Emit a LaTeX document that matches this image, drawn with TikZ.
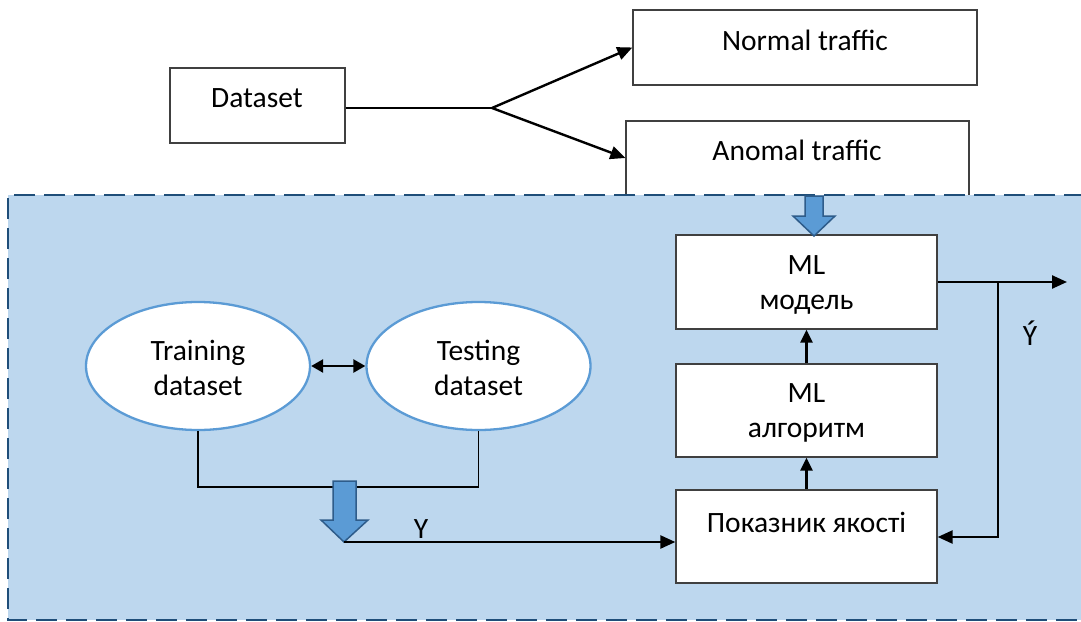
\documentclass[tikz,border=0pt]{standalone}
\usepackage{fontspec}
\setmainfont{Carlito}
\usetikzlibrary{arrows.meta,shapes.geometric}
\definecolor{regionfill}{HTML}{BDD7EE}
\definecolor{regionedge}{HTML}{1F4E79}
\definecolor{ellipseedge}{HTML}{5B9BD5}
\definecolor{blockfill}{HTML}{5B9BD5}
\definecolor{blockedge}{HTML}{2E5C8A}
\definecolor{boxedge}{HTML}{404040}
\begin{document}
\begin{tikzpicture}[x=1pt,y=-1pt,
  font=\fontsize{29.5}{35}\selectfont,
  box/.style={draw=boxedge, fill=white, line width=1.3pt, inner sep=0pt},
  oval/.style={ellipse, draw=ellipseedge, fill=white, line width=2.3pt, inner sep=0pt,
               minimum width=224pt, minimum height=128pt},
  label text/.style={align=center, inner sep=0pt},
  thin link/.style={draw=black, line width=1.1pt},
  link/.style={draw=black, line width=2.4pt},
  tip/.style={-{Triangle[length=15pt,width=13pt]}},
  small tip/.style={-{Triangle[length=13pt,width=12pt]}},
  block arrow/.style={fill=blockfill, draw=blockedge, line width=1.5pt, line join=miter},
]
\useasboundingbox (0,0) rectangle (1081,621);

% --- upper part: dataset split into two traffic classes ---
\node[box, minimum width=175pt, minimum height=75pt] (dataset) at (257.5,105.5) {};
\node[label text] (datasettext) at (257,98) {Dataset};
\node[box, minimum width=344pt, minimum height=75pt] (normal) at (805,47.5) {};
\node[label text] (normaltext) at (805,40) {Normal traffic};
\node[box, minimum width=343pt, minimum height=110pt] (anomal) at (797.5,176) {};
\node[label text] (anomaltext) at (797,150) {Anomal traffic};

\coordinate (fork) at (492,108);
\draw[thin link] (dataset.east |- fork) -- (fork);
\draw[link, tip] (fork) -- (normal.west);
\draw[link, tip] (fork) -- (anomal.west |- 0,158);

% --- shaded processing region with dashed border ---
\fill[regionfill] (8,195) rectangle (1085,620);
\draw[regionedge, line width=2.5pt, dash pattern=on 21pt off 9pt]
  (1085,195) -- (8,195) -- (8,620) -- (1085,620);

% --- model chain on the right ---
\node[box, minimum width=261pt, minimum height=94pt] (model) at (806.5,282) {};
\node[label text] (modeltext) at (806.5,285) {ML\\модель};
\node[box, minimum width=261pt, minimum height=93pt] (algo) at (806.5,410.5) {};
\node[label text] (algotext) at (806.5,413) {ML\\алгоритм};
\node[box, minimum width=261pt, minimum height=93pt] (quality) at (806.5,536.5) {};
\node[label text] (qualitytext) at (806.5,522) {Показник якості};

\draw[link, small tip] (quality.north) -- (algo.south);
\draw[link, small tip] (algo.north) -- (model.south);

% block arrow feeding the model
\draw[block arrow] (805,196) -- (823,196) -- (823,216) -- (835,216) -- (814,236)
  -- (793,216) -- (805,216) -- cycle;

% model output and feedback
\coordinate (out) at (1067,282);
\coordinate (tap) at (998,282);
\coordinate (back) at (998,537);
\draw[link, tip] (model.east |- out) -- (out);
\draw[link, tip] (tap) -- (back) -- (quality.east |- back);
\node[label text] (yhat) at (1030,333) {Ý};

% --- training / testing sets ---
\node[oval] (train) at (198,366) {};
\node[label text] (traintext) at (198,368) {Training\\dataset};
\node[oval] (test) at (478.5,366) {};
\node[label text] (testtext) at (478.5,368) {Testing\\dataset};
\draw[link, {Triangle[length=12pt,width=13pt]}-{Triangle[length=12pt,width=13pt]}]
  (train.east) -- (test.west);

\coordinate (join) at (344,487);
\draw[thin link] (train.south) -- (train.south |- join) -- (test.south |- join) -- (test.south);

% block arrow collecting both sets
\draw[block arrow] (333,481) -- (356,481) -- (356,520) -- (368,520) -- (344,542)
  -- (321,520) -- (333,520) -- cycle;
\coordinate (ytip) at (344,542);
\draw[link, tip] (ytip) -- (quality.west |- ytip);
\node[label text] (ylabel) at (421,529) {Y};
\end{tikzpicture}
\end{document}
